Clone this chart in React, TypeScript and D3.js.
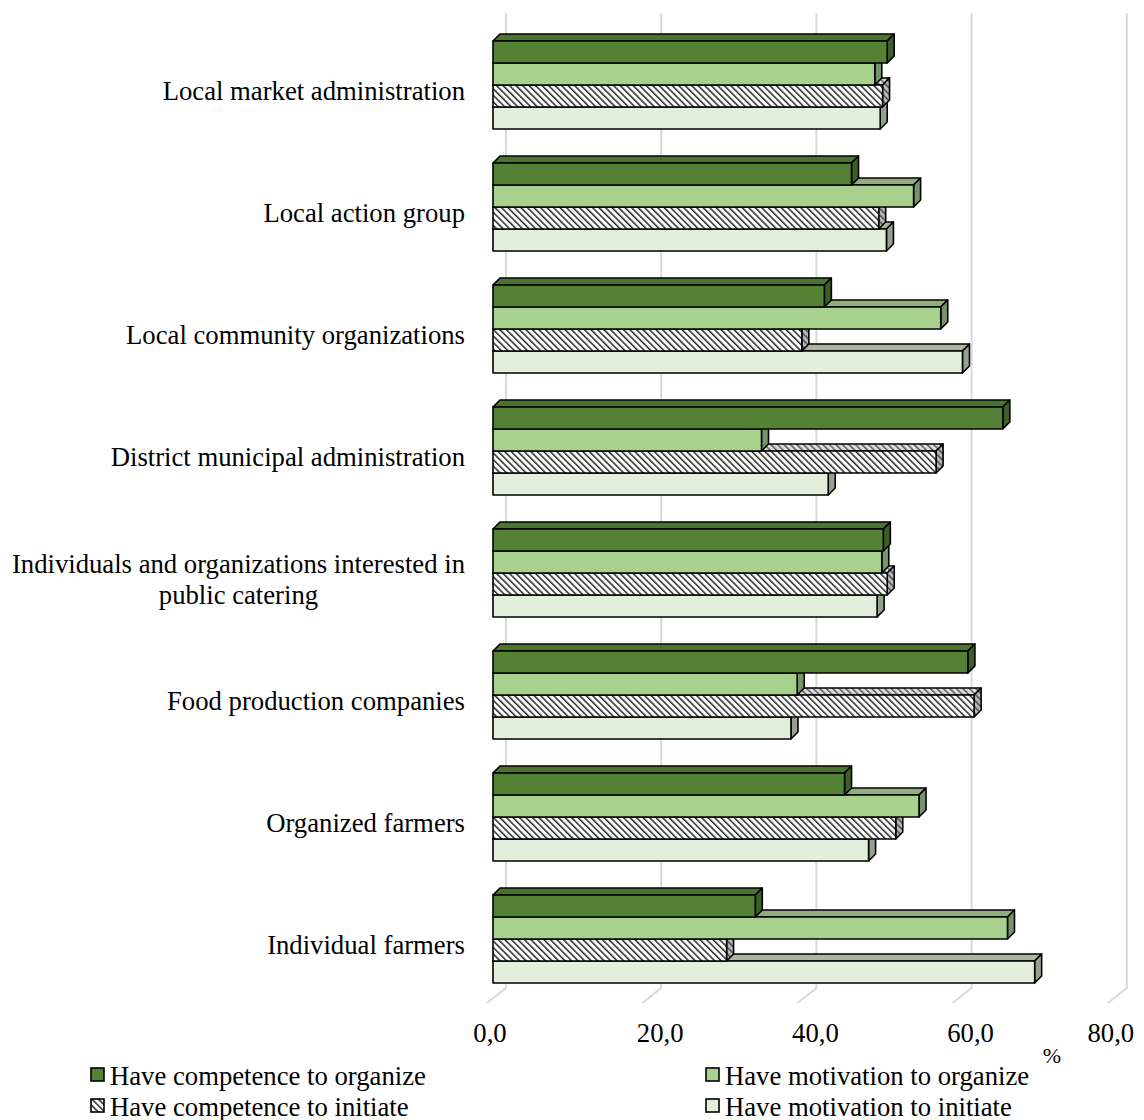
import React, { useEffect, useRef } from "react";
import * as d3 from "d3";

const categories = [
  "Local market administration",
  "Local action group",
  "Local community organizations",
  "District municipal administration",
  "Individuals and organizations interested in\npublic catering",
  "Food production companies",
  "Organized farmers",
  "Individual farmers",
];

const seriesNames = [
  "Have competence to organize",
  "Have motivation to organize",
  "Have competence to initiate",
  "Have motivation to initiate",
];

const competenceOrganize = [50.8, 46.2, 42.7, 65.7, 50.3, 61.2, 45.3, 33.8];
const motivationOrganize = [49.2, 54.2, 57.7, 34.6, 50.1, 39.2, 54.9, 66.3];
const competenceInitiate = [50.2, 49.7, 39.8, 57.1, 50.8, 62.0, 51.9, 30.1];
const motivationInitiate = [49.9, 50.7, 60.5, 43.2, 49.5, 38.4, 48.4, 69.8];

const tickValues = [0, 20, 40, 60, 80];
const tickLabels = ["0,0", "20,0", "40,0", "60,0", "80,0"];

const W = 1144;
const H = 1120;
const FONT = "'Liberation Serif', 'Times New Roman', serif";
const FS = 26.7;

const styles = [
  { front: "#548235", top: "#4a7530", side: "#3c5f27" },
  { front: "#a9d18e", top: "#8fae79", side: "#76946a" },
  { front: "url(#hatchFront)", top: "url(#hatchTop)", side: "url(#hatchSide)" },
  { front: "#e2efda", top: "#a9b7a1", side: "#94a18d" },
];

export default function App() {
  const ref = useRef<SVGSVGElement | null>(null);

  useEffect(() => {
    const svg = d3.select(ref.current);
    svg.selectAll("*").remove();

    const defs = svg.append("defs");
    const mkPattern = (id: string, bg: string, fg: string) => {
      const p = defs
        .append("pattern")
        .attr("id", id)
        .attr("patternUnits", "userSpaceOnUse")
        .attr("width", 4.6)
        .attr("height", 4.6)
        .attr("patternTransform", "rotate(-45)");
      p.append("rect").attr("width", 4.6).attr("height", 4.6).attr("fill", bg);
      p.append("rect").attr("x", 0).attr("y", 0).attr("width", 1.5).attr("height", 4.6).attr("fill", fg);
    };
    mkPattern("hatchFront", "#ffffff", "#262626");
    mkPattern("hatchTop", "#dcdcdc", "#5a5a5a");
    mkPattern("hatchSide", "#b8b8b8", "#4a4a4a");

    const series = [competenceOrganize, motivationOrganize, competenceInitiate, motivationInitiate];

    const xFront = d3.scaleLinear().domain([0, 80]).range([493, 493 + 80 * 7.76]);
    const xBack = d3.scaleLinear().domain([0, 80]).range([506, 506 + 80 * 7.76]);

    const y = d3
      .scaleBand<string>()
      .domain(categories)
      .range([24, 1000])
      .paddingInner(0.279)
      .paddingOuter(0.1395);
    const yInner = d3
      .scaleBand<number>()
      .domain([0, 1, 2, 3])
      .range([0, y.bandwidth()]);

    const DX = 7;
    const DY = 7;

    // back-wall gridlines and floor lines
    const grid = svg.append("g");
    tickValues.forEach((v) => {
      const xb = xBack(v);
      grid
        .append("path")
        .attr("d", `M${xb},13 L${xb},988 L${xb - 19},1003`)
        .attr("fill", "none")
        .attr("stroke", "#d9d9d9")
        .attr("stroke-width", 2);
    });

    // bars
    const bars = svg.append("g");
    categories.forEach((cat, ci) => {
      for (let si = 3; si >= 0; si--) {
        const v = series[si][ci];
        const x0 = xFront(0);
        const xr = xFront(v);
        const t = (y(cat) as number) + (yInner(si) as number);
        const b = t + yInner.bandwidth();
        const st = styles[si];
        const g = bars.append("g").attr("stroke", "#000").attr("stroke-width", 1.6).attr("stroke-linejoin", "round");
        g.append("path")
          .attr("d", `M${x0},${t} L${x0 + DX},${t - DY} L${xr + DX},${t - DY} L${xr},${t} Z`)
          .attr("fill", st.top);
        g.append("path")
          .attr("d", `M${xr},${t} L${xr + DX},${t - DY} L${xr + DX},${b - DY} L${xr},${b} Z`)
          .attr("fill", st.side);
        g.append("rect")
          .attr("x", x0)
          .attr("y", t)
          .attr("width", xr - x0)
          .attr("height", b - t)
          .attr("fill", st.front);
      }
    });

    // category labels
    const labels = svg.append("g").attr("font-family", FONT).attr("font-size", FS).attr("fill", "#000");
    categories.forEach((cat) => {
      const lines = cat.split("\n");
      const cy = (y(cat) as number) + y.bandwidth() / 2;
      const lh = 31;
      const texts = lines.map((ln, i) =>
        labels
          .append("text")
          .attr("y", cy + 15 + (i - (lines.length - 1) / 2) * lh)
          .text(ln)
      );
      const widths = texts.map((tx) => (tx.node() as SVGTextElement).getComputedTextLength());
      const maxW = Math.max(...widths);
      const right = 465;
      texts.forEach((tx) => {
        tx.attr("text-anchor", "middle").attr("x", right - maxW / 2);
      });
    });

    // tick labels
    const ticks = svg.append("g").attr("font-family", FONT).attr("font-size", FS).attr("fill", "#000").attr("text-anchor", "middle");
    tickValues.forEach((v, i) => {
      const edge = i === 0 || i === tickValues.length - 1;
      const cx = xFront(v) + (edge ? -3 : 12);
      ticks.append("text").attr("x", cx).attr("y", 1042).text(tickLabels[i]);
    });

    svg
      .append("text")
      .attr("x", 1052)
      .attr("y", 1063)
      .attr("text-anchor", "middle")
      .attr("font-family", FONT)
      .attr("font-size", 22)
      .text("%");

    // legend
    const legend = svg.append("g").attr("font-family", FONT).attr("font-size", FS);
    const legendPos = [
      { x: 91, y: 1068 },
      { x: 706, y: 1068 },
      { x: 91, y: 1099 },
      { x: 706, y: 1099 },
    ];
    seriesNames.forEach((name, i) => {
      const p = legendPos[i];
      legend
        .append("rect")
        .attr("x", p.x)
        .attr("y", p.y)
        .attr("width", 13)
        .attr("height", 13)
        .attr("fill", styles[i].front)
        .attr("stroke", "#000")
        .attr("stroke-width", 1.6);
      legend
        .append("text")
        .attr("x", p.x + 19)
        .attr("y", p.y + 17)
        .text(name);
    });
  }, []);

  return (
    <svg
      ref={ref}
      width={W}
      height={H}
      style={{ position: "absolute", left: 0, top: 0, background: "#fff" }}
    />
  );
}
